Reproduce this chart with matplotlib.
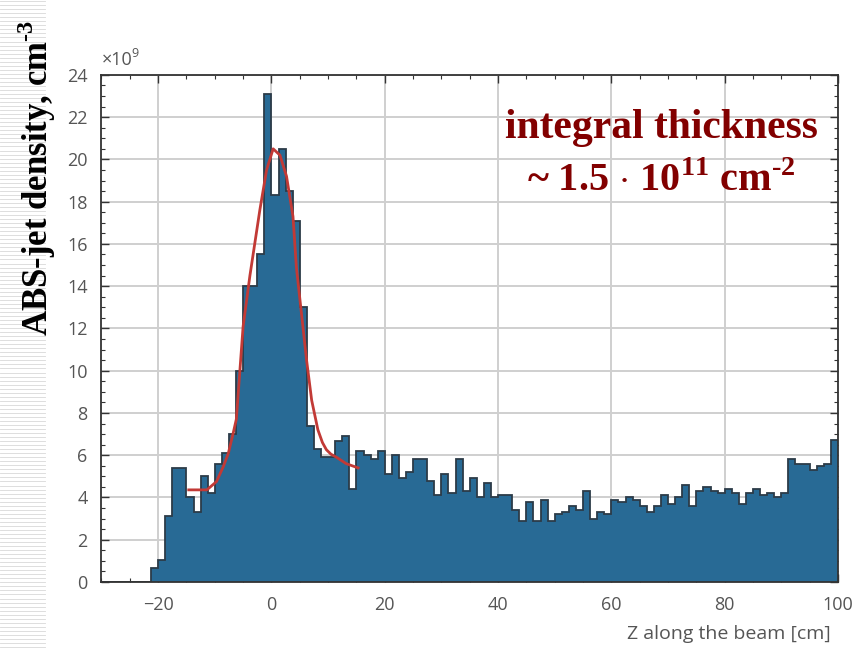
import numpy as np
from matplotlib import pyplot as plt
from matplotlib.ticker import MultipleLocator

# histogram: bins of 1.25 cm from -30 to 100 cm, density in units of 1e9 cm^-3
bin_start = -30.0
bin_width = 1.25
density = [
    0, 0, 0, 0, 0, 0, 0, 0.66, 1.04, 3.1,
    5.4, 5.4, 4.0, 3.3, 5.0, 4.2, 5.6, 6.1, 7.0, 10.0,
    14.0, 14.0, 15.5, 23.1, 18.3, 20.5, 18.5, 17.1, 13.0, 7.4,
    6.3, 5.9, 5.9, 6.65, 6.9, 4.4, 6.2, 6.0, 5.8, 6.2,
    5.1, 6.0, 4.9, 5.2, 5.8, 5.8, 4.8, 4.1, 5.1, 4.2,
    5.8, 4.3, 4.9, 4.0, 4.7, 4.0, 4.1, 4.1, 3.4, 2.9,
    3.8, 2.9, 3.9, 2.9, 3.2, 3.3, 3.6, 3.4, 4.3, 3.0,
    3.3, 3.2, 3.9, 3.8, 4.0, 3.9, 3.6, 3.3, 3.6, 4.1,
    3.7, 4.0, 4.6, 3.6, 4.3, 4.5, 4.3, 4.2, 4.4, 4.2,
    3.7, 4.2, 4.4, 4.1, 4.2, 4.0, 4.2, 5.8, 5.6, 5.6,
    5.3, 5.5, 5.6, 6.7,
]

# fitted peak curve
fit_z = [-14.6, -11.4, -9.7, -8.5, -7.6, -6.75, -6.2, -5.0, -3.8, -2.05,
         -0.86, 0.3, 1.5, 2.66, 3.8, 4.4, 5.3, 6.2, 7.1, 8.2,
         9.0, 9.7, 10.5, 11.5, 13.2, 15.3]
fit_val = [4.36, 4.36, 4.75, 5.46, 6.1, 7.05, 7.7, 12.1, 14.5, 17.6,
           19.5, 20.5, 20.2, 19.2, 17.3, 14.9, 12.7, 10.5, 8.6, 7.2,
           6.6, 6.26, 6.05, 5.9, 5.6, 5.4]

edges = bin_start + bin_width * np.arange(len(density) + 1)

plt.rcParams['font.family'] = ['Open Sans', 'DejaVu Sans']
plt.rcParams['mathtext.fontset'] = 'custom'
plt.rcParams['mathtext.rm'] = 'Liberation Serif'
plt.rcParams['mathtext.bf'] = 'Liberation Serif:bold'

fig = plt.figure(figsize=(8.63, 6.51), dpi=100)

# slide background stripes on the left margin
for yy in np.arange(0.0, 1.0, 0.0062):
    fig.add_artist(plt.Line2D([0, 0.052], [yy, yy], color='#d8d8d8',
                              lw=0.6, transform=fig.transFigure))

ax = fig.add_axes([0.1176, 0.106, 0.8534, 0.779])
ax.set_axisbelow(True)
ax.grid(True, which='major', color='#cfcfcf', lw=1.4)

ax.stairs(density, edges, fill=True, color='#286a95')
ax.stairs(density, edges, color='#2c3b48', lw=1.3, baseline=None)
ax.plot(fit_z, fit_val, color='#c23a36', lw=2)

ax.set_xlim(-30, 100)
ax.set_ylim(0, 24)
ax.xaxis.set_major_locator(MultipleLocator(20))
ax.xaxis.set_minor_locator(MultipleLocator(5))
ax.yaxis.set_major_locator(MultipleLocator(2))
ax.yaxis.set_minor_locator(MultipleLocator(0.5))
ax.tick_params(which='both', direction='in', top=True, right=True,
               colors='#333333', labelcolor='#555555', labelsize=13)
ax.tick_params(which='major', length=6, width=1)
ax.tick_params(axis='x', pad=10)
ax.tick_params(axis='y', pad=10)
ax.tick_params(which='minor', length=3, width=0.8)
for s in ax.spines.values():
    s.set_color('#333333')
    s.set_linewidth(1.3)

ax.text(0.0, 1.012, '×10', transform=ax.transAxes,
        fontsize=13, color='#555555', va='bottom')
ax.text(0.041, 1.03, '9', transform=ax.transAxes,
        fontsize=9, color='#555555', va='bottom')

ax.set_xlabel('Z along the beam [cm]', fontsize=14, color='#555555')
ax.xaxis.set_label_coords(0.99, -0.085)
ax.xaxis.label.set_horizontalalignment('right')

fig.text(0.042, 0.727, 'ABS-jet density, cm$^{\\mathbf{\u20103}}$', rotation=90,
         family='Liberation Serif', fontweight='bold', fontsize=25,
         ha='center', va='center', color='black')

ax.text(0.76, 0.895, 'integral thickness', transform=ax.transAxes,
        family='Liberation Serif', fontweight='bold', fontsize=30,
        color='#820000', ha='center', va='center')
ax.text(0.76, 0.79,
        '~ 1.5 $\\cdot$ 10$^{\\mathbf{11}}$ cm$^{\\mathbf{\u20102}}$',
        transform=ax.transAxes, family='Liberation Serif',
        fontweight='bold', fontsize=29, color='#820000',
        ha='center', va='center')

fig.savefig('out.png', dpi=100)
